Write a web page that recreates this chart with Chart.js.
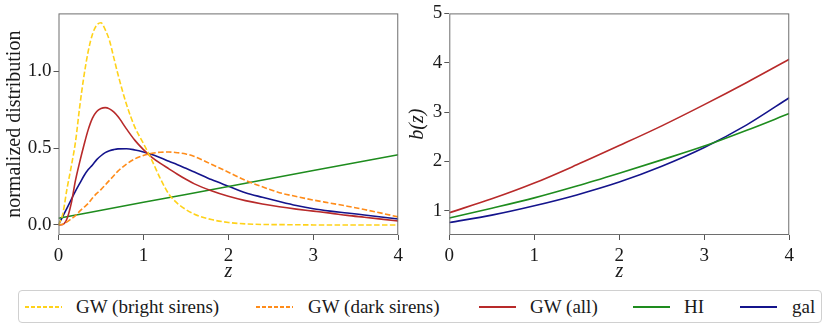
<!DOCTYPE html>
<html>
<head>
<meta charset="utf-8">
<script src="https://cdn.jsdelivr.net/npm/chart.js@4.4.1/dist/chart.umd.min.js"></script>
<style>
  body { margin: 0; background: #fff; width: 830px; height: 332px; overflow: hidden; position: relative; font-family: 'Liberation Serif', serif; }
  #left { position: absolute; left: 0; top: 0; }
  #right { position: absolute; left: 405px; top: 0; }
  #legend { position: absolute; left: 18px; top: 290px; width: 804px; height: 33px; border: 1px solid #d0d0d0; border-radius: 4px; box-sizing: border-box; }
  .item { position: absolute; top: 0; height: 31px; line-height: 31px; font-size: 19px; color: #1a1a1a; white-space: nowrap; }
  .swatch { position: absolute; top: 15px; width: 37px; height: 1.5px; }
</style>
</head>
<body>
<canvas id="left" width="408" height="290"></canvas>
<canvas id="right" width="394" height="290"></canvas>
<div id="legend"></div>
<script>
// redshift grid for the distributions (left panel)
const zDist = [0, 0.05, 0.1, 0.15, 0.2, 0.25, 0.3, 0.35, 0.4, 0.45, 0.5, 0.55, 0.6, 0.65, 0.7, 0.8, 0.9, 1.0,
  1.1, 1.2, 1.3, 1.4, 1.5, 1.6, 1.8, 2.0, 2.2, 2.4, 2.6, 2.8, 3.0, 3.2, 3.4, 3.6, 3.8, 4.0];
const brightDist = [0, 0.07, 0.235, 0.38, 0.54, 0.77, 0.97, 1.13, 1.24, 1.30, 1.315, 1.27, 1.20, 1.09, 0.98, 0.785, 0.635, 0.53,
  0.42, 0.30, 0.20, 0.14, 0.10, 0.07, 0.035, 0.016, 0.007, 0.003, 0.002, 0.001, 0, 0, 0, 0, 0, 0];
const darkDist = [0, 0.005, 0.02, 0.04, 0.06, 0.09, 0.115, 0.14, 0.175, 0.205, 0.23, 0.26, 0.29, 0.32, 0.35, 0.395, 0.43, 0.452,
  0.466, 0.473, 0.474, 0.47, 0.462, 0.445, 0.395, 0.343, 0.29, 0.248, 0.21, 0.185, 0.162, 0.142, 0.122, 0.10, 0.077, 0.052];
const allDist = [0, 0.003, 0.04, 0.14, 0.29, 0.41, 0.52, 0.62, 0.695, 0.738, 0.757, 0.763, 0.755, 0.735, 0.705, 0.625, 0.55, 0.49,
  0.44, 0.40, 0.365, 0.33, 0.297, 0.267, 0.222, 0.186, 0.158, 0.136, 0.118, 0.103, 0.09, 0.077, 0.062, 0.05, 0.038, 0.026];
const galDist = [0, 0.055, 0.11, 0.165, 0.22, 0.27, 0.32, 0.36, 0.39, 0.425, 0.45, 0.47, 0.482, 0.49, 0.495, 0.496, 0.488, 0.475,
  0.458, 0.437, 0.414, 0.392, 0.368, 0.345, 0.295, 0.252, 0.21, 0.18, 0.152, 0.126, 0.105, 0.09, 0.078, 0.065, 0.052, 0.039];
const hiZ = [0, 1, 2, 3, 4];
const hiDist = [0.043, 0.147, 0.25, 0.354, 0.457];

// bias b(z) (right panel)
const zBias = [0, 0.5, 1, 1.5, 2, 2.5, 3, 3.5, 4];
const gwBias = [0.96, 1.24, 1.56, 1.93, 2.32, 2.72, 3.15, 3.60, 4.07];
const hiBias = [0.85, 1.05, 1.26, 1.50, 1.76, 2.03, 2.31, 2.63, 2.97];
const galBias = [0.76, 0.91, 1.10, 1.32, 1.58, 1.90, 2.28, 2.74, 3.29];

const xTicks = [0, 1, 2, 3, 4];
const yTicksDist = [0, 0.5, 1.0];
const yTicksBias = [1, 2, 3, 4, 5];

const labels = ['GW (bright sirens)', 'GW (dark sirens)', 'GW (all)', 'HI', 'gal'];
const colors = ['#FFD21A', '#FF8C1A', '#B82A2A', '#1E8C1E', '#14148C'];

const pts = (xs, ys) => xs.map((x, i) => ({x: x, y: ys[i]}));
const font = 'Liberation Serif';

// draws the full matplotlib-like box around the plot area
const framePlugin = {
  id: 'frame',
  afterDraw(chart) {
    const {ctx, chartArea: a} = chart;
    ctx.save();
    ctx.strokeStyle = '#6e6e6e';
    ctx.lineWidth = 1;
    ctx.strokeRect(a.left + 0.5, a.top + 0.5, a.right - a.left - 1, a.bottom - a.top - 1);
    ctx.restore();
  }
};

const line = (label, data, color, dashed) => ({
  label: label,
  data: data,
  borderColor: color,
  backgroundColor: color,
  borderWidth: 1.6,
  borderDash: dashed ? [5.5, 2.4] : [],
  pointRadius: 0,
  cubicInterpolationMode: 'monotone',
  fill: false,
});

const makeOptions = (yMin, yMax, yTicks, yTitle, yFmt, yWidth, yTitlePad) => ({
  responsive: false,
  animation: false,
  events: [],
  layout: { padding: { top: 13, right: 0, left: 0, bottom: 0 } },
  plugins: { legend: { display: false }, tooltip: { enabled: false } },
  scales: {
    x: {
      type: 'linear', min: 0, max: 4,
      afterBuildTicks: s => { s.ticks = xTicks.map(v => ({value: v})); },
      afterFit: s => { s.height = 55; },
      border: { display: false },
      grid: { drawOnChartArea: false, drawTicks: true, tickLength: 5, color: '#555' },
      ticks: { color: '#1a1a1a', font: { family: font, size: 19 }, padding: 5, maxRotation: 0 },
      title: { display: true, text: 'z', color: '#1a1a1a', font: { family: font, size: 20, style: 'italic' }, padding: { top: 0, bottom: 6 } },
    },
    y: {
      type: 'linear', min: yMin, max: yMax,
      afterBuildTicks: s => { s.ticks = yTicks.map(v => ({value: v})); },
      afterFit: s => { s.width = yWidth; },
      border: { display: false },
      grid: { drawOnChartArea: false, drawTicks: true, tickLength: 5, color: '#555' },
      ticks: { color: '#1a1a1a', font: { family: font, size: 19 }, padding: 2, callback: yFmt },
      title: { display: true, text: yTitle, color: '#1a1a1a', font: { family: font, size: 20 }, padding: { top: yTitlePad, bottom: 0 } },
    },
  },
});

new Chart(document.getElementById('left'), {
  type: 'line',
  data: {
    datasets: [
      line(labels[0], pts(zDist, brightDist), colors[0], true),
      line(labels[1], pts(zDist, darkDist), colors[1], true),
      line(labels[2], pts(zDist, allDist), colors[2], false),
      line(labels[3], pts(hiZ, hiDist), colors[3], false),
      line(labels[4], pts(zDist, galDist), colors[4], false),
    ],
  },
  options: makeOptions(-0.0655, 1.376, yTicksDist, 'normalized distribution', v => v.toFixed(1), 58.5, 3),
  plugins: [framePlugin],
});

const rightOpts = makeOptions(0.507, 5, yTicksBias, 'b(z)', v => String(v), 44.3, 1);
rightOpts.scales.y.title.font.style = 'italic';
new Chart(document.getElementById('right'), {
  type: 'line',
  data: {
    datasets: [
      line(labels[2], pts(zBias, gwBias), colors[2], false),
      line(labels[3], pts(zBias, hiBias), colors[3], false),
      line(labels[4], pts(zBias, galBias), colors[4], false),
    ],
  },
  options: rightOpts,
  plugins: [framePlugin],
});

// legend below both panels
const swatchLeft = [6, 237, 460, 614, 721];
const textLeft = [57, 289, 511, 665, 773];
const legend = document.getElementById('legend');
labels.forEach((lab, i) => {
  const sw = document.createElement('div');
  sw.className = 'swatch';
  sw.style.left = swatchLeft[i] + 'px';
  sw.style.background = i < 2
    ? `repeating-linear-gradient(to right, ${colors[i]} 0 4px, transparent 4px 6px)`
    : colors[i];
  legend.appendChild(sw);
  const tx = document.createElement('div');
  tx.className = 'item';
  tx.style.left = textLeft[i] + 'px';
  tx.textContent = lab;
  legend.appendChild(tx);
});
</script>
</body>
</html>
